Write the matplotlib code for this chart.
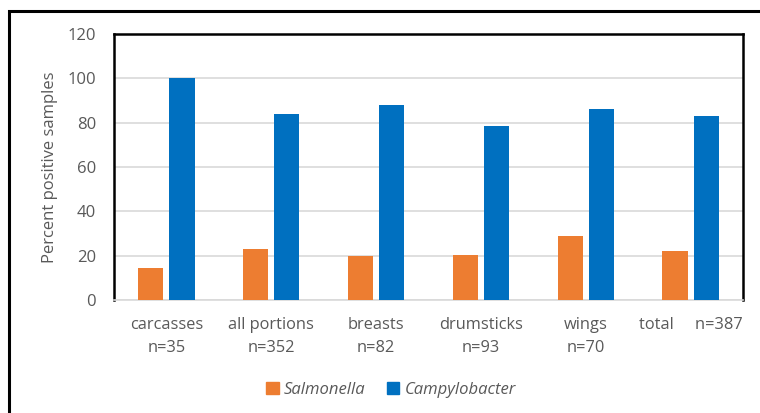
import matplotlib
matplotlib.use("Agg")
import matplotlib.pyplot as plt
from matplotlib.patches import Rectangle, Patch
import numpy as np

categories = ["carcasses\nn=35", "all portions\nn=352", "breasts\nn=82",
              "drumsticks\nn=93", "wings\nn=70", "total     n=387"]
salmonella = [14.5, 23, 20, 20.5, 29, 22]
campylobacter = [100, 84, 88, 78.5, 86, 83]
yticks = [0, 20, 40, 60, 80, 100, 120]

W, H = 760, 413
fig = plt.figure(figsize=(W/100, H/100), dpi=100)
plt.rcParams['font.family'] = ['Open Sans', 'DejaVu Sans']

# outer frame
fig.patches.append(Rectangle((9/W, -0.1), 1.2, 1 - 11/H + 0.1, transform=fig.transFigure,
                             fill=False, edgecolor='black', linewidth=2.2, zorder=0))

ax = fig.add_axes([114/W, 1 - 300/H, (743-114)/W, (300-34)/H])
x = np.arange(len(categories))
w = 0.24
off = 0.148
tc = '#595959'
ax.bar(x - off, salmonella, w, color='#ED7D31', zorder=3, label='Salmonella')
ax.bar(x + off, campylobacter, w, color='#0070C0', zorder=3, label='Campylobacter')
ax.set_xlim(-0.5, len(categories) - 0.5)
ax.set_ylim(0, 120)
ax.set_yticks(yticks)
ax.set_yticklabels([str(v) for v in yticks], color=tc, fontsize=12)
ax.set_xticks(x)
ax.set_xticklabels(categories, color=tc, fontsize=11.8, linespacing=1.6)
ax.tick_params(length=0, pad=13, axis='y')
ax.tick_params(length=0, pad=12, axis='x')
ax.grid(axis='y', color='#d9d9d9', linewidth=1.2, zorder=0)
for s in ['top', 'right', 'left']:
    ax.spines[s].set_color('black')
    ax.spines[s].set_linewidth(1.8)
ax.spines['bottom'].set_color('#d9d9d9')
ax.spines['bottom'].set_linewidth(1.2)
ax.set_ylabel('Percent positive samples', color=tc, fontsize=12, labelpad=7)

handles = [Patch(color='#ED7D31'), Patch(color='#0070C0')]
leg = fig.legend(handles, ['Salmonella', 'Campylobacter'], loc='center',
                 bbox_to_anchor=(391/W, 1 - 390/H), ncol=2, frameon=False,
                 prop={'style': 'italic', 'size': 12}, handlelength=0.75,
                 handleheight=0.75, handletextpad=0.3, columnspacing=1.3)
for t in leg.get_texts():
    t.set_color(tc)

fig.savefig('out.png', dpi=100)
